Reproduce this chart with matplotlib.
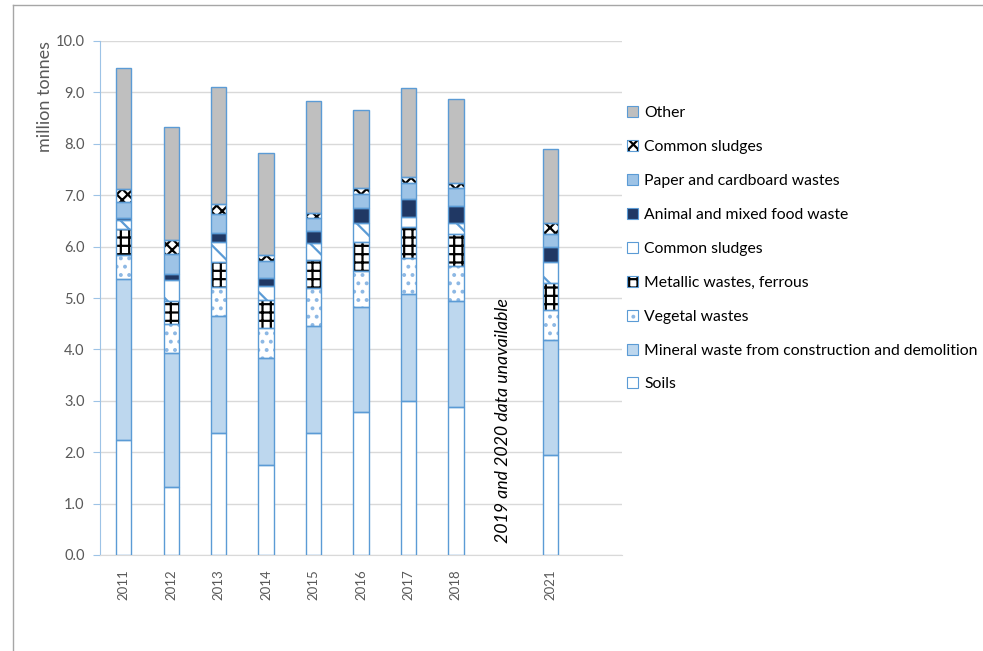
import matplotlib
matplotlib.use("Agg")
import matplotlib.pyplot as plt
from matplotlib.lines import Line2D
from matplotlib.patches import Patch
from matplotlib.legend_handler import HandlerTuple

plt.rcParams["font.family"] = ["Lato", "DejaVu Sans"]
plt.rcParams["hatch.linewidth"] = 1.6

years = ["2011", "2012", "2013", "2014", "2015", "2016", "2017", "2018", "2021"]
xpos = [0, 1, 2, 3, 4, 5, 6, 7, 9]

series = [
    "Soils",
    "Mineral waste from construction and demolition",
    "Vegetal wastes",
    "Metallic wastes, ferrous",
    "Common sludges",
    "Animal and mixed food waste",
    "Paper and cardboard wastes",
    "Common sludges",
    "Other",
]

soils = [2.23, 1.32, 2.37, 1.75, 2.37, 2.78, 3.00, 2.88, 1.95]
mineral = [3.13, 2.61, 2.28, 2.08, 2.09, 2.04, 2.08, 2.06, 2.23]
vegetal = [0.48, 0.56, 0.56, 0.59, 0.74, 0.71, 0.70, 0.68, 0.59]
metallic = [0.51, 0.45, 0.49, 0.54, 0.54, 0.56, 0.60, 0.63, 0.52]
sludges_a = [0.17, 0.41, 0.39, 0.27, 0.33, 0.37, 0.20, 0.21, 0.41]
animal = [0.03, 0.12, 0.17, 0.16, 0.23, 0.29, 0.35, 0.33, 0.29]
paper = [0.31, 0.39, 0.37, 0.33, 0.25, 0.27, 0.31, 0.35, 0.26]
sludges_b = [0.27, 0.27, 0.20, 0.11, 0.10, 0.12, 0.12, 0.10, 0.21]
other = [2.34, 2.20, 2.28, 1.99, 2.18, 1.52, 1.72, 1.63, 1.44]

values = [soils, mineral, vegetal, metallic, sludges_a, animal, paper, sludges_b, other]

# (face colour, hatch, hatch colour)
styles = [
    ("white", None, None),
    ("#BDD7EE", None, None),
    ("white", "..", "#8DB8E4"),
    ("white", "++", "black"),
    ("white", "\\", "#5B9BD5"),
    ("#203864", None, None),
    ("#9DC3E6", None, None),
    ("white", "xxx", "black"),
    ("#BFBFBF", None, None),
]

EDGE = "#5B9BD5"
W, H = 983, 651

fig = plt.figure(figsize=(W / 100, H / 100), dpi=100)
ax = fig.add_axes([100 / W, 1 - 555 / H, (622 - 100) / W, (555 - 41) / H])

bottom = [0.0] * len(years)
handles = []
for vals, (face, hatch, hcol) in zip(values, styles):
    if hatch:
        ax.bar(xpos, vals, 0.32, bottom=bottom, color=face, edgecolor=hcol,
               hatch=hatch, linewidth=0, zorder=2)
    else:
        ax.bar(xpos, vals, 0.32, bottom=bottom, color=face, linewidth=0, zorder=2)
    ax.bar(xpos, vals, 0.32, bottom=bottom, fill=False, edgecolor=EDGE,
           linewidth=1.0, zorder=3)
    bottom = [b + v for b, v in zip(bottom, vals)]
    fill = Patch(facecolor=face, edgecolor=hcol if hatch else face, hatch=hatch, linewidth=0)
    outline = Patch(fill=False, edgecolor=EDGE, linewidth=0.8)
    handles.append((fill, outline))

ax.set_xlim(-0.5, 10.5)
ax.set_ylim(0, 10)
ax.set_yticks([i for i in range(11)])
ax.set_yticklabels([f"{i:.1f}" for i in range(11)], fontsize=10.5, color="#595959")
ax.set_xticks(xpos)
ax.set_xticklabels(years, rotation=90, fontsize=9.5, color="#595959")
ax.tick_params(axis="x", length=0, pad=10)
ax.tick_params(axis="y", length=5, color="#9DC3E6", pad=6)
ax.grid(axis="y", color="#D9D9D9", linewidth=1, zorder=0)
ax.set_axisbelow(True)
for s in ["top", "right"]:
    ax.spines[s].set_visible(False)
ax.spines["left"].set_color("#9DC3E6")
ax.spines["bottom"].set_color("#D9D9D9")

ax.text(8, 2.62, "2019 and 2020 data unavailable", rotation=90, style="italic",
        fontsize=12.8, ha="center", va="center", color="black")

fig.text(45 / W, 1 - 97 / H, "million tonnes", rotation=90, fontsize=13,
         color="#595959", ha="center", va="center")

leg = fig.legend(handles[::-1], series[::-1], handler_map={tuple: HandlerTuple(ndivide=1)},
                 loc="upper left", bbox_to_anchor=(627 / W, 1 - 106 / H), frameon=False,
                 fontsize=11.3, handlelength=0.7, handleheight=0.7, handletextpad=0.4,
                 labelspacing=1.27, borderpad=0, borderaxespad=0)

# chart area frame
fig.add_artist(Line2D([13 / W, 1], [1 - 5 / H, 1 - 5 / H], color="#A6A6A6", linewidth=1))
fig.add_artist(Line2D([13 / W, 13 / W], [0, 1 - 5 / H], color="#A6A6A6", linewidth=1))

fig.savefig("out.png", dpi=100)
